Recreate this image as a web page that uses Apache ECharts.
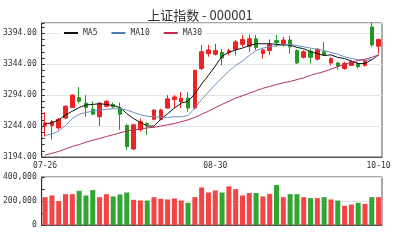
<!DOCTYPE html>
<html>
<head>
<meta charset="utf-8">
<script src="https://cdn.jsdelivr.net/npm/echarts@6/dist/echarts.min.js"></script>
<style>
html, body { margin: 0; padding: 0; background: #fff; }
#chart { width: 400px; height: 240px; }
</style>
</head>
<body>
<div id="chart"></div>
<script>
// 交易日
const dates = ['07-26','07-27','07-28','07-31','08-01','08-02','08-03','08-04','08-07','08-08',
  '08-09','08-10','08-11','08-14','08-15','08-16','08-17','08-18','08-21','08-22',
  '08-23','08-24','08-25','08-28','08-29','08-30','08-31','09-01','09-04','09-05',
  '09-06','09-07','09-08','09-11','09-12','09-13','09-14','09-15','09-18','09-19',
  '09-20','09-21','09-22','09-25','09-26','09-27','09-28','09-29','10-09','10-10'];
// K线 开/收/低/高
const openV  = [3244,3245,3241,3257,3274,3290,3281,3271,3259,3276,3279,3273,3245,3207,3238,3248,3255,3255,3273,3287,
  3283,3289,3273,3337,3361,3360,3363,3363,3368,3376,3373,3385,3361,3366,3382,3376,3383,3366,3355,3365,
  3352,3364,3346,3346,3337,3342,3345,3342,3404,3373];
const closeV = [3249,3251,3255,3276,3294,3284,3274,3263,3281,3284,3275,3263,3211,3246,3251,3246,3270,3270,3288,3291,
  3289,3273,3334,3364,3367,3366,3354,3366,3380,3384,3385,3371,3367,3376,3379,3383,3372,3346,3364,3355,
  3368,3359,3353,3341,3345,3348,3340,3349,3375,3384];
const lowV   = [3227,3222,3238,3255,3273,3281,3259,3262,3244,3274,3272,3238,3205,3205,3235,3230,3253,3253,3272,3273,
  3273,3267,3271,3334,3356,3358,3342,3358,3358,3372,3364,3367,3353,3359,3372,3372,3361,3344,3353,3345,
  3350,3357,3342,3335,3335,3341,3337,3340,3372,3361];
const highV  = [3266,3254,3257,3278,3295,3307,3294,3284,3283,3286,3282,3282,3247,3248,3256,3250,3271,3272,3294,3294,
  3299,3299,3335,3375,3375,3377,3369,3369,3383,3391,3392,3391,3369,3384,3391,3388,3390,3368,3367,3369,
  3370,3380,3355,3348,3348,3350,3347,3352,3411,3385];
// 成交量
const volume = [232000,246000,199000,257000,257000,285000,246000,291000,232000,257000,
  238000,255000,271000,210000,204000,204000,232000,218000,213000,221000,
  204000,185000,232000,313000,271000,288000,271000,322000,299000,246000,
  266000,266000,238000,260000,333000,232000,257000,257000,232000,224000,
  224000,232000,213000,204000,160000,171000,185000,176000,232000,232000];
// 均线
const ma5  = [3248,3249,3254,3262,3268,3274,3278,3279,3280,3279,3277,3274,3264,3256,3250,3244,3244,3255,3264,3273,
  3281,3284,3296,3312,3326,3341,3357,3363,3367,3370,3374,3377,3377,3377,3376,3375,3375,3371,3369,3364,
  3361,3358,3359,3355,3353,3349,3345,3345,3351,3359];
const ma10 = [3229,3231,3236,3245,3256,3263,3266,3268,3270,3271,3272,3272,3270,3266,3262,3260,3259,3258,3258,3259,
  3259,3261,3273,3287,3299,3311,3322,3333,3342,3349,3358,3366,3370,3372,3374,3375,3376,3374,3372,3370,
  3368,3366,3363,3360,3356,3353,3351,3350,3352,3358];
const ma30 = [3197,3200,3203,3207,3211,3214,3218,3221,3224,3227,3230,3233,3236,3238,3239,3241,3242,3244,3246,3248,
  3251,3254,3258,3263,3268,3274,3279,3284,3289,3293,3297,3301,3305,3308,3311,3314,3316,3319,3322,3326,
  3329,3332,3336,3340,3344,3347,3350,3352,3355,3359];
const dateLabelIdx = [0, 25, 49];

const UP = '#ee2222', DOWN = '#229922';
const font = 'DejaVu Sans Mono';

const kData = dates.map((d, i) => [openV[i], closeV[i], lowV[i], highV[i]]);
const volData = volume.map((v, i) => ({
    value: v,
    itemStyle: { color: closeV[i] >= openV[i] ? '#f44444' : '#33a533' }
}));

const chart = echarts.init(document.getElementById('chart'), null, { renderer: 'canvas' });
chart.setOption({
    animation: false,
    title: {
        text: '上证指数 - 000001',
        left: 'center',
        top: 4,
        textStyle: { fontFamily: 'Noto Sans CJK SC', fontSize: 13, fontWeight: 'normal', color: '#333' }
    },
    legend: {
        data: ['MA5', 'MA10', 'MA30'],
        left: 60,
        top: 27,
        icon: 'rect',
        itemWidth: 14,
        itemHeight: 2,
        itemGap: 14,
        padding: [2, 4],
        backgroundColor: '#fff',
        textStyle: { fontFamily: font, fontSize: 8, color: '#333' }
    },
    grid: [
        { left: 40, right: 18, top: 23, height: 134, show: true, borderColor: '#555', borderWidth: 1 },
        { left: 40, right: 18, top: 177, height: 48, show: true, borderColor: '#555', borderWidth: 1 }
    ],
    xAxis: [
        {
            type: 'category', gridIndex: 0, data: dates, boundaryGap: true,
            axisLine: { lineStyle: { color: '#555' } },
            axisTick: { show: false },
            axisLabel: {
                interval: (idx) => dateLabelIdx.includes(idx),
                fontFamily: font, fontSize: 8, color: '#333', margin: 5
            },
            splitLine: { show: false }
        },
        {
            type: 'category', gridIndex: 1, data: dates, boundaryGap: true,
            axisLine: { lineStyle: { color: '#555' } },
            axisTick: { show: false },
            axisLabel: { show: false },
            splitLine: { show: false }
        }
    ],
    yAxis: [
        {
            type: 'value', gridIndex: 0, min: 3194, max: 3410.5, interval: 50,
            axisLine: { show: true, lineStyle: { color: '#333' } },
            axisTick: { show: true, inside: true, length: 3, lineStyle: { color: '#333' } },
            minorTick: { show: true, splitNumber: 5, length: 3, lineStyle: { color: '#333' } },
            axisLabel: {
                showMaxLabel: false, fontFamily: font, fontSize: 8, color: '#333', margin: 5,
                formatter: (v) => v.toFixed(2)
            },
            splitLine: { show: true, lineStyle: { color: '#e4e4e4' } }
        },
        {
            type: 'value', gridIndex: 1, min: 0, max: 400000, interval: 200000,
            axisLine: { show: true, lineStyle: { color: '#333' } },
            axisTick: { show: true, inside: true, length: 3, lineStyle: { color: '#333' } },
            minorTick: { show: true, splitNumber: 2, length: 3, lineStyle: { color: '#333' } },
            axisLabel: { fontFamily: font, fontSize: 8, color: '#333', margin: 5 },
            splitLine: { show: true, lineStyle: { color: '#e4e4e4' } }
        }
    ],
    series: [
        {
            name: 'K', type: 'candlestick', xAxisIndex: 0, yAxisIndex: 0,
            data: kData, barWidth: 4,
            itemStyle: { color: UP, color0: DOWN, borderColor: UP, borderColor0: DOWN, borderWidth: 1 }
        },
        {
            name: 'MA5', type: 'line', data: ma5, xAxisIndex: 0, yAxisIndex: 0,
            symbol: 'none', smooth: false, color: '#111',
            lineStyle: { width: 1, color: '#111' }
        },
        {
            name: 'MA10', type: 'line', data: ma10, xAxisIndex: 0, yAxisIndex: 0,
            symbol: 'none', color: '#4f7eb3',
            lineStyle: { width: 1, color: '#6a8fbb' }
        },
        {
            name: 'MA30', type: 'line', data: ma30, xAxisIndex: 0, yAxisIndex: 0,
            symbol: 'none', color: '#c8284e',
            lineStyle: { width: 1, color: '#b8305a' }
        },
        {
            name: 'VOL', type: 'bar', xAxisIndex: 1, yAxisIndex: 1,
            data: volData, barWidth: 5
        }
    ]
});
</script>
</body>
</html>
